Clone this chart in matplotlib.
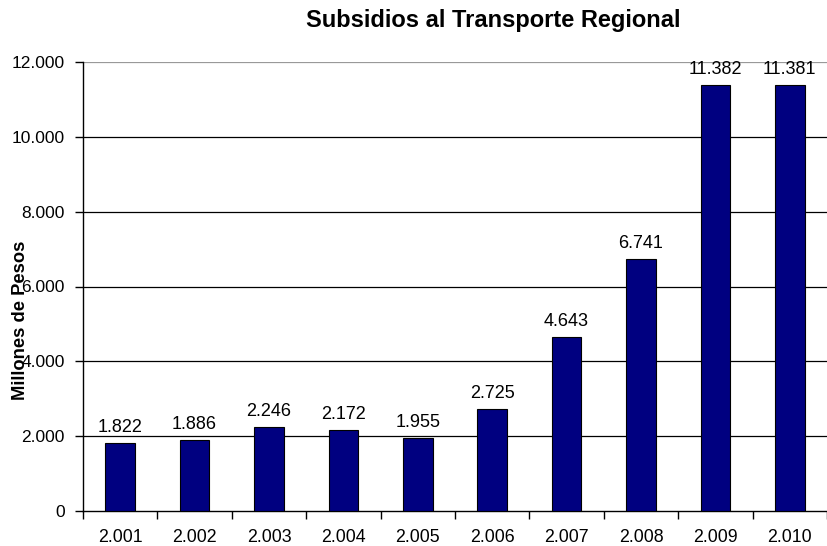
import matplotlib
matplotlib.use("Agg")
import matplotlib.pyplot as plt
from matplotlib.ticker import FuncFormatter, FixedLocator

years = ["2.001", "2.002", "2.003", "2.004", "2.005", "2.006", "2.007", "2.008", "2.009", "2.010"]
values = [1822, 1886, 2246, 2172, 1955, 2725, 4643, 6741, 11382, 11381]
y_ticks = [0, 2000, 4000, 6000, 8000, 10000, 12000]

plt.rcParams['font.family'] = ['Liberation Sans', 'DejaVu Sans']

def fmt(v, pos=None):
    return f"{int(v):,}".replace(",", ".")

fig = plt.figure(figsize=(8.28, 5.46), dpi=100)
ax = fig.add_axes([83/828, 35/546, 744/828, 449/546])

x = list(range(len(years)))
bars = ax.bar(x, values, width=0.40, color="#000080", edgecolor="black", linewidth=0.8, zorder=3)

ax.set_xlim(-0.5, len(years) - 0.5)
ax.set_ylim(0, 12000)
ax.set_yticks(y_ticks)
ax.yaxis.set_major_formatter(FuncFormatter(fmt))
ax.set_xticks(x)
ax.set_xticklabels(years)
ax.xaxis.set_minor_locator(FixedLocator([i - 0.5 for i in range(len(years) + 1)]))
ax.tick_params(axis='x', which='major', length=0, pad=13, labelsize=12.8, colors='black')
ax.tick_params(axis='x', which='minor', length=6, width=1, direction='out')
ax.tick_params(axis='y', length=6, width=1, direction='out', pad=7, labelsize=12.5)

for y in y_ticks[1:]:
    ax.axhline(y, color='black' if y < 12000 else '#999999', linewidth=0.9, zorder=1)

for s in ['top', 'right']:
    ax.spines[s].set_visible(False)
ax.spines['left'].set_linewidth(1)
ax.spines['bottom'].set_linewidth(1)

for xi, v in zip(x, values):
    ax.annotate(fmt(v), (xi, v), xytext=(0, 5), textcoords='offset points',
                ha='center', va='bottom', fontsize=13, zorder=4)

ax.set_ylabel("Millones de Pesos", fontsize=13.2, fontweight='bold')
ax.yaxis.set_label_coords(-0.0725, 0.425)

fig.text(493/828, 1 - 20/546, "Subsidios al Transporte Regional", ha='center', va='center',
         fontsize=17, fontweight='bold')

fig.savefig("out.png", dpi=100)
